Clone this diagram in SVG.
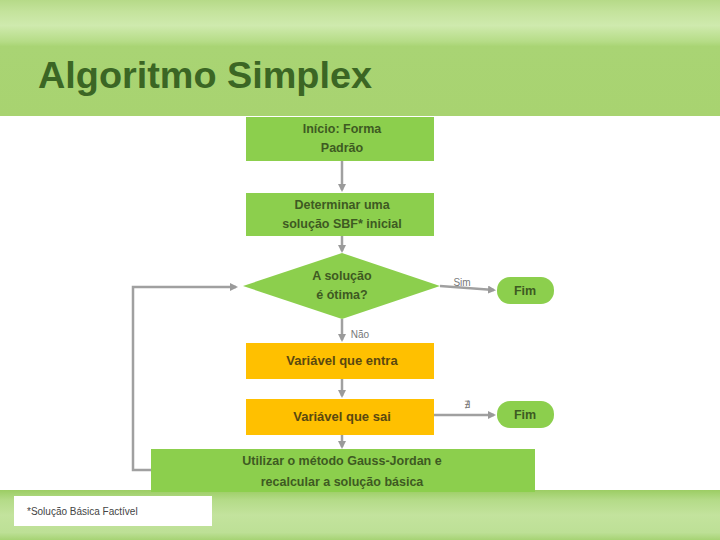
<svg xmlns="http://www.w3.org/2000/svg" width="720" height="540" viewBox="0 0 720 540">
<defs>
<linearGradient id="hdr" x1="0" y1="0" x2="0" y2="1">
<stop offset="0" stop-color="#b6da88"/>
<stop offset="0.1" stop-color="#c4e39c"/>
<stop offset="0.22" stop-color="#cfeaae"/>
<stop offset="0.36" stop-color="#b5dc86"/>
<stop offset="0.4" stop-color="#a9d474"/>
<stop offset="1" stop-color="#a8d370"/>
</linearGradient>
<linearGradient id="ftr" x1="0" y1="0" x2="0" y2="1">
<stop offset="0" stop-color="#9ccd64"/>
<stop offset="0.2" stop-color="#b4db88"/>
<stop offset="0.5" stop-color="#c3e39d"/>
<stop offset="0.85" stop-color="#bde096"/>
<stop offset="1" stop-color="#a6d374"/>
</linearGradient>
<marker id="arr" markerWidth="8" markerHeight="8" refX="6" refY="4" orient="auto" markerUnits="userSpaceOnUse">
<path d="M0,0 L8,4 L0,8 z" fill="#9a9a9a"/>
</marker>
<style>
.g{fill:#8ccf4d}
.o{fill:#ffc000}
.t{font-family:"Liberation Sans",Arial,sans-serif;font-weight:bold;font-size:12.5px;fill:#3e5a22;text-anchor:middle}
.to{font-family:"Liberation Sans",Arial,sans-serif;font-weight:bold;font-size:13px;fill:#5a4810;text-anchor:middle}
.c{stroke:#a0a0a0;stroke-width:2.5;fill:none}
.lb{font-family:"Liberation Sans",Arial,sans-serif;font-size:10px;fill:#777;text-anchor:middle}
</style>
</defs>
<rect x="0" y="0" width="720" height="540" fill="#ffffff"/>
<rect x="0" y="0" width="720" height="116" fill="url(#hdr)"/>
<text x="38" y="88" font-family="'Liberation Sans',Arial,sans-serif" font-weight="bold" font-size="36" fill="#3b6624" textLength="334" lengthAdjust="spacingAndGlyphs">Algoritmo Simplex</text>
<rect x="0" y="490" width="720" height="50" fill="url(#ftr)"/>

<g id="connectors">
<line class="c" x1="342" y1="161" x2="342" y2="190" marker-end="url(#arr)"/>
<line class="c" x1="342" y1="236" x2="342" y2="251" marker-end="url(#arr)"/>
<line class="c" x1="440" y1="286" x2="494" y2="290" marker-end="url(#arr)"/>
<text class="lb" x="462" y="286">Sim</text>
<line class="c" x1="342" y1="319" x2="342" y2="340" marker-end="url(#arr)"/>
<text class="lb" x="360" y="338">Não</text>
<line class="c" x1="342" y1="379" x2="342" y2="396" marker-end="url(#arr)"/>
<line class="c" x1="434" y1="415" x2="494" y2="415" marker-end="url(#arr)"/>
<text class="lb" x="467" y="408">∄</text>
<line class="c" x1="342" y1="435" x2="342" y2="447" marker-end="url(#arr)"/>
<polyline class="c" points="151,470 133,470 133,287 236,287" marker-end="url(#arr)"/>
</g>

<g id="n1"><rect class="g" x="246" y="117" width="188" height="44"/>
<text class="t" x="342" y="133">Início: Forma</text><text class="t" x="342" y="152">Padrão</text></g>
<g id="n2"><rect class="g" x="246" y="193" width="188" height="43"/>
<text class="t" x="342" y="209">Determinar uma</text><text class="t" x="342" y="228">solução SBF* inicial</text></g>
<g id="n3"><polygon class="g" points="342,253 440,286 342,319 243,286"/>
<text class="t" x="342" y="280">A solução</text><text class="t" x="342" y="299">é ótima?</text></g>
<g id="n4"><rect class="g" x="497" y="277" width="57" height="27" rx="13"/>
<text class="t" x="525" y="295">Fim</text></g>
<g id="n5"><rect class="o" x="246" y="343" width="188" height="36"/>
<text class="to" x="342" y="365">Variável que entra</text></g>
<g id="n6"><rect class="o" x="246" y="399" width="188" height="36"/>
<text class="to" x="342" y="421">Variável que sai</text></g>
<g id="n7"><rect class="g" x="497" y="401" width="57" height="27" rx="13"/>
<text class="t" x="525" y="419">Fim</text></g>
<g id="n8"><rect class="g" x="151" y="449" width="384" height="43"/>
<text class="t" x="342" y="465">Utilizar o método Gauss-Jordan e</text><text class="t" x="342" y="486">recalcular a solução básica</text></g>

<g id="note"><rect x="14" y="496" width="198" height="30" fill="#ffffff"/>
<text x="27" y="515" font-family="'Liberation Sans',Arial,sans-serif" font-size="10" fill="#444">*Solução Básica Factível</text></g>
</svg>
